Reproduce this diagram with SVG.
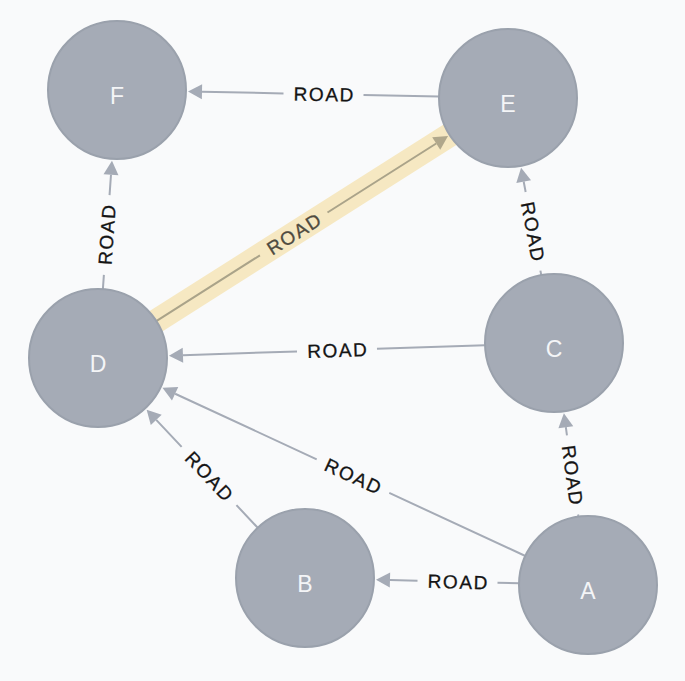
<svg xmlns="http://www.w3.org/2000/svg" width="685" height="681" viewBox="0 0 685 681">
  <style>
    .edge { stroke: #a5abb6; stroke-width: 2; fill: none; }
    .head { fill: #a5abb6; }
    .hl-edge { stroke: #aaa389; stroke-width: 2; fill: none; }
    .hl-head { fill: #b0a78b; }
    .band { stroke: #f6e8c2; stroke-width: 24; fill: none; }
    .rel { font-family: "Liberation Sans", Arial, sans-serif; font-size: 19px; letter-spacing: 1.6px; fill: #141414; stroke: #141414; stroke-width: 0.3; text-anchor: middle; }
    .rel.hl { fill: #4f4b40; stroke: #4f4b40; }
    .node circle { fill: #a5abb6; stroke: #9aa1ac; stroke-width: 2; }
    .node text { font-family: "Liberation Sans", Arial, sans-serif; font-size: 23px; fill: #f4f5f7; text-anchor: middle; }
  </style>

  <rect x="0" y="0" width="685" height="681" fill="#f9fafb"/>

  <!-- highlighted relationship band D -> E -->
  <line class="band" x1="98" y1="358" x2="508" y2="98"/>

  <g id="connectors">
    <!-- E -> F -->
    <g id="edge-E-F">
      <path class="edge" d="M439.0,96.6 L363.5,95.0 M283.5,93.4 L202.0,91.8"/>
      <polygon class="head" points="188.0,91.5 202.14,84.3 201.86,99.3"/>
      <text class="rel" transform="translate(323.5,94.2) rotate(1.17)" x="0.8" y="6.8">ROAD</text>
    </g>
    <!-- D -> F -->
    <g id="edge-D-F">
      <path class="edge" d="M102.88,289.17 L103.89,274.87 M109.55,195.07 L110.99,174.79"/>
      <polygon class="head" points="111.98,160.82 118.47,175.33 103.51,174.27"/>
      <text class="rel" transform="translate(106.72,234.97) rotate(-85.94)" x="0.8" y="6.8">ROAD</text>
    </g>
    <!-- D -> E (highlighted) -->
    <g id="edge-D-E">
      <path class="hl-edge" d="M156.27,321.05 L259.93,255.31 M327.49,212.47 L436.22,143.52"/>
      <polygon class="hl-head" points="448.04,136.02 440.24,149.85 432.20,137.19"/>
      <text class="rel hl" transform="translate(293.71,233.89) rotate(-32.38)" x="0.8" y="6.8">ROAD</text>
    </g>
    <!-- C -> D -->
    <g id="edge-C-D">
      <path class="edge" d="M485.04,345.27 L376.97,348.82 M297.01,351.46 L182.95,355.21"/>
      <polygon class="head" points="168.96,355.67 182.70,347.71 183.20,362.71"/>
      <text class="rel" transform="translate(336.99,350.14) rotate(-1.88)" x="0.8" y="6.8">ROAD</text>
    </g>
    <!-- C -> E -->
    <g id="edge-C-E">
      <path class="edge" d="M541.27,275.18 L540.41,270.62 M525.65,192.0 L523.68,181.54"/>
      <polygon class="head" points="521.10,167.78 531.05,180.16 516.31,182.92"/>
      <text class="rel" transform="translate(533.03,231.31) rotate(79.37)" x="0.8" y="6.8">ROAD</text>
    </g>
    <!-- A -> C -->
    <g id="edge-A-C">
      <path class="edge" d="M578.40,516.67 L578.10,514.50 M566.96,435.28 L565.83,427.17"/>
      <polygon class="head" points="563.88,413.31 573.26,426.13 558.40,428.21"/>
      <text class="rel" transform="translate(572.53,474.89) rotate(82.0)" x="0.8" y="6.8">ROAD</text>
    </g>
    <!-- A -> D -->
    <g id="edge-A-D">
      <path class="edge" d="M525.39,556.0 L389.27,492.93 M316.69,459.31 L175.12,393.72"/>
      <polygon class="head" points="162.42,387.84 178.27,386.92 171.97,400.52"/>
      <text class="rel" transform="translate(352.98,476.12) rotate(24.86)" x="0.8" y="6.8">ROAD</text>
    </g>
    <!-- B -> D -->
    <g id="edge-B-D">
      <path class="edge" d="M257.72,527.75 L236.45,505.14 M181.63,446.88 L156.24,419.91"/>
      <polygon class="head" points="146.65,409.71 161.70,414.77 150.78,425.05"/>
      <text class="rel" transform="translate(209.04,476.01) rotate(46.74)" x="0.8" y="6.8">ROAD</text>
    </g>
    <!-- A -> B -->
    <g id="edge-A-B">
      <path class="edge" d="M519.02,583.29 L497.49,582.76 M417.51,580.78 L389.98,580.11"/>
      <polygon class="head" points="375.98,579.76 390.17,572.61 389.79,587.61"/>
      <text class="rel" transform="translate(457.5,581.77) rotate(1.42)" x="0.8" y="6.8">ROAD</text>
    </g>
  </g>

  <g id="node-F" class="node">
    <circle cx="117" cy="90" r="69"/>
    <text x="117" y="104">F</text>
  </g>
  <g id="node-E" class="node">
    <circle cx="508" cy="98" r="69"/>
    <text x="508" y="112">E</text>
  </g>
  <g id="node-D" class="node">
    <circle cx="98" cy="358" r="69"/>
    <text x="98" y="372">D</text>
  </g>
  <g id="node-C" class="node">
    <circle cx="554" cy="343" r="69"/>
    <text x="554" y="357">C</text>
  </g>
  <g id="node-B" class="node">
    <circle cx="305" cy="578" r="69"/>
    <text x="305" y="592">B</text>
  </g>
  <g id="node-A" class="node">
    <circle cx="588" cy="585" r="69"/>
    <text x="588" y="599">A</text>
  </g>
</svg>
